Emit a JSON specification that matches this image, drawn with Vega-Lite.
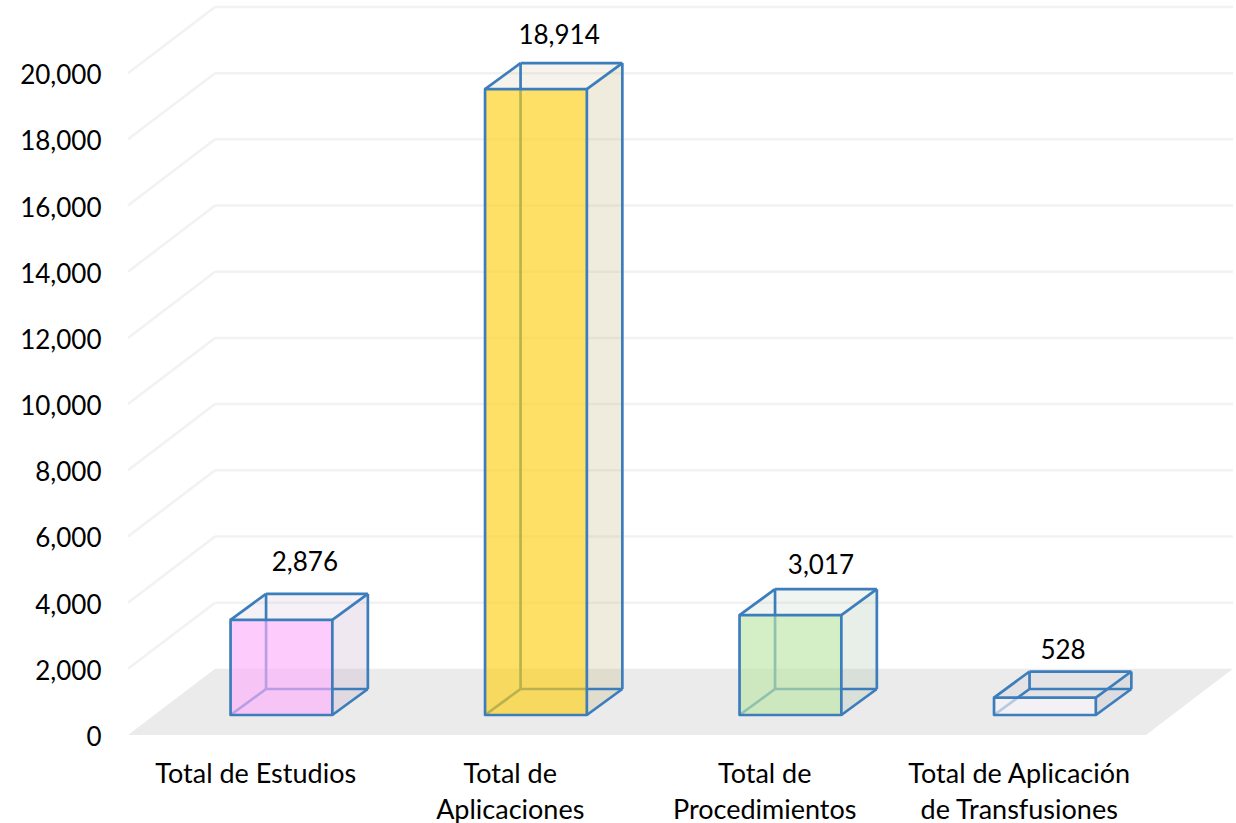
{
"$schema":"https://vega.github.io/schema/vega-lite/v6.json",
"width":1105,"height":728,
"autosize":{"type":"none"},
"padding":{"left":128,"top":7,"right":3,"bottom":88},
"background":"white",
"config":{"view":{"stroke":null},"font":"Lato","axis":{"labelFont":"Lato","labelColor":"#000000","domain":false,"ticks":false,"grid":false,"title":null}},
"datasets":{
"barras":[
{"categoria":"Total de Estudios","orden":1,"valor":2876},
{"categoria":"Total de Aplicaciones","orden":2,"valor":18914},
{"categoria":"Total de Procedimientos","orden":3,"valor":3017},
{"categoria":"Total de Aplicación de Transfusiones","orden":4,"valor":528}],
"ejes":[{"v":0},{"v":2000},{"v":4000},{"v":6000},{"v":8000},{"v":10000},{"v":12000},{"v":14000},{"v":16000},{"v":18000},{"v":20000}],
"piso":[{"t":0},{"t":1}]
},
"encoding":{},
"layer":[
{"data":{"name":"piso"},
 "transform":[{"calculate":"datum.t*2000","as":"py"},{"calculate":"0.5+datum.t*0.342","as":"pa"},{"calculate":"4.5+datum.t*0.342","as":"pb"}],
 "mark":{"type":"area","orient":"horizontal","color":"#ebebeb","opacity":1},
 "encoding":{
  "y":{"field":"py","type":"quantitative","scale":{"domain":[0,22000],"nice":false},
    "axis":{"values":[0,2000,4000,6000,8000,10000,12000,14000,16000,18000,20000],"labelExpr":"format(datum.value,',')","labelFontSize":26,"labelPadding":27,"labelOffset":2.5,"orient":"left"}},
  "x":{"field":"pa","type":"quantitative","scale":{"domain":[0.5,4.842],"nice":false,"zero":false},
    "axis":{"values":[1,2,3,4],"orient":"bottom","labelFontSize":27,"labelPadding":26,"labelLineHeight":36,"labelBaseline":"top","labelOverlap":false,"labelFlush":false,"labelLimit":0,"labelBound":false,
      "labelExpr":"datum.value==1?['Total de Estudios']:datum.value==2?['Total de','Aplicaciones']:datum.value==3?['Total de','Procedimientos']:['Total de Aplicación','de Transfusiones']"}},
  "x2":{"field":"pb"}
 }},
{"data":{"name":"ejes"},
 "transform":[{"calculate":"datum.v+2000","as":"v2"},{"calculate":"0.5","as":"a"},{"calculate":"0.842","as":"b"},{"calculate":"4.842","as":"c"}],
 "layer":[
  {"transform":[{"filter":"datum.v>0"}],"mark":{"type":"rule","stroke":"#f2f2f2","strokeWidth":2.5},
   "encoding":{"x":{"field":"a","type":"quantitative"},"x2":{"field":"b"},"y":{"field":"v","type":"quantitative"},"y2":{"field":"v2"}}},
  {"transform":[{"filter":"datum.v>0"}],"mark":{"type":"rule","stroke":"#f2f2f2","strokeWidth":2.5},
   "encoding":{"x":{"field":"b","type":"quantitative"},"x2":{"field":"c"},"y":{"field":"v2","type":"quantitative"}}}
 ]},
{"data":{"name":"barras"},
 "transform":[
  {"calculate":"datum.orden-0.097","as":"L"},
  {"calculate":"datum.orden+0.303","as":"R"},
  {"calculate":"datum.L+0.1395","as":"LB"},
  {"calculate":"datum.R+0.1395","as":"RB"},
  {"calculate":"604","as":"B0"},
  {"calculate":"1390","as":"B1"},
  {"calculate":"datum.valor+datum.B0","as":"T0"},
  {"calculate":"datum.valor+datum.B1","as":"T1"},
  {"calculate":"datum.orden+[0.195,0.194,0.223,0.174][datum.orden-1]","as":"lx"},
  {"calculate":"datum.valor+[2320,2210,2090,2020][datum.orden-1]","as":"ly"},
  {"calculate":"[0,1]","as":"t"},
  {"flatten":["t"]},
  {"calculate":"datum.t*0.1395","as":"dx"},
  {"calculate":"datum.t*786","as":"dy"},
  {"calculate":"datum.R+datum.dx","as":"sx"},
  {"calculate":"datum.B0+datum.dy","as":"sb"},
  {"calculate":"datum.T0+datum.dy","as":"st"},
  {"calculate":"datum.L+datum.dx","as":"tl"}
 ],
 "layer":[
  {"mark":{"type":"area","orient":"vertical","opacity":0.25},
   "encoding":{"x":{"field":"sx","type":"quantitative"},"y":{"field":"sb","type":"quantitative"},"y2":{"field":"st"},
    "fill":{"field":"categoria","type":"nominal","legend":null,"scale":{"domain":["Total de Estudios","Total de Aplicaciones","Total de Procedimientos","Total de Aplicación de Transfusiones"],"range":["#c3a3c3","#bfaf77","#a3bba3","#b4b4c0"]}}}},
  {"mark":{"type":"area","orient":"horizontal","opacity":0.15},
   "encoding":{"y":{"field":"st","type":"quantitative"},"x":{"field":"tl","type":"quantitative"},"x2":{"field":"sx"},
    "fill":{"field":"categoria","type":"nominal","legend":null,"scale":{"domain":["Total de Estudios","Total de Aplicaciones","Total de Procedimientos","Total de Aplicación de Transfusiones"],"range":["#c3a3c3","#bfaf77","#a3bba3","#b4b4c0"]}}}},
  {"transform":[{"filter":"datum.t==0"}],
   "layer":[
    {"mark":{"type":"rule","stroke":"#3c7dbb","strokeWidth":2.7},"encoding":{"x":{"field":"LB","type":"quantitative"},"y":{"field":"B1","type":"quantitative"},"y2":{"field":"T1"}}},
    {"mark":{"type":"rule","stroke":"#3c7dbb","strokeWidth":2.7},"encoding":{"x":{"field":"LB","type":"quantitative"},"x2":{"field":"RB"},"y":{"field":"B1","type":"quantitative"}}},
    {"mark":{"type":"rule","stroke":"#3c7dbb","strokeWidth":2.7},"encoding":{"x":{"field":"L","type":"quantitative"},"x2":{"field":"LB"},"y":{"field":"B0","type":"quantitative"},"y2":{"field":"B1"}}},
    {"mark":{"type":"rect","fillOpacity":0.65,"stroke":"#3c7dbb","strokeWidth":2.7,"strokeJoin":"round"},
     "encoding":{"x":{"field":"L","type":"quantitative"},"x2":{"field":"R"},"y":{"field":"B0","type":"quantitative"},"y2":{"field":"T0"},
      "fill":{"field":"categoria","type":"nominal","legend":null,"scale":{"domain":["Total de Estudios","Total de Aplicaciones","Total de Procedimientos","Total de Aplicación de Transfusiones"],"range":["#fcb1fc","#fed014","#bde7a6","#f8f5f8"]}}}},
    {"mark":{"type":"rule","stroke":"#3c7dbb","strokeWidth":2.7},"encoding":{"x":{"field":"R","type":"quantitative"},"x2":{"field":"RB"},"y":{"field":"B0","type":"quantitative"},"y2":{"field":"B1"}}},
    {"mark":{"type":"rule","stroke":"#3c7dbb","strokeWidth":2.7},"encoding":{"x":{"field":"L","type":"quantitative"},"x2":{"field":"LB"},"y":{"field":"T0","type":"quantitative"},"y2":{"field":"T1"}}},
    {"mark":{"type":"rule","stroke":"#3c7dbb","strokeWidth":2.7},"encoding":{"x":{"field":"R","type":"quantitative"},"x2":{"field":"RB"},"y":{"field":"T0","type":"quantitative"},"y2":{"field":"T1"}}},
    {"mark":{"type":"rule","stroke":"#3c7dbb","strokeWidth":2.7},"encoding":{"x":{"field":"LB","type":"quantitative"},"x2":{"field":"RB"},"y":{"field":"T1","type":"quantitative"}}},
    {"mark":{"type":"rule","stroke":"#3c7dbb","strokeWidth":2.7},"encoding":{"x":{"field":"RB","type":"quantitative"},"y":{"field":"B1","type":"quantitative"},"y2":{"field":"T1"}}},
    {"mark":{"type":"text","font":"Lato","fontSize":26,"color":"#000000","baseline":"middle","align":"center"},
     "encoding":{"x":{"field":"lx","type":"quantitative"},"y":{"field":"ly","type":"quantitative"},"text":{"field":"valor","type":"quantitative","format":","}}}
   ]}
 ],
 "resolve":{"scale":{"fill":"independent"}}
}
],
"resolve":{"scale":{"fill":"independent"}}
}
